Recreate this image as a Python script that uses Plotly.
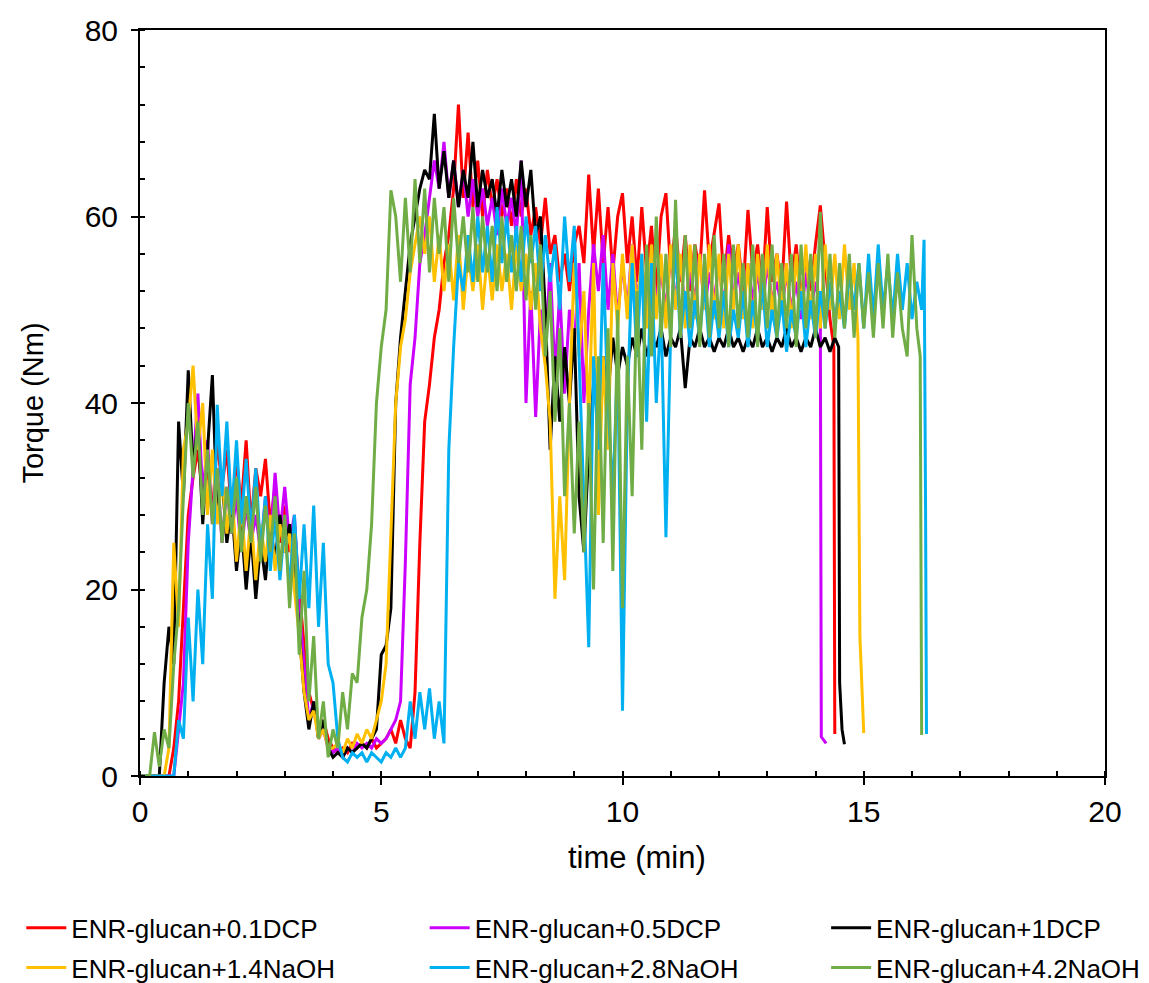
import plotly.graph_objects as go

# ---------------- data (torque in Nm, sampled every 0.1 min, plus end-of-run tails) ----------------
STEP = 0.1

names = ["ENR-glucan+0.1DCP", "ENR-glucan+0.5DCP", "ENR-glucan+1DCP",
         "ENR-glucan+1.4NaOH", "ENR-glucan+2.8NaOH", "ENR-glucan+4.2NaOH"]
colors = ["#FF0000", "#CC00FF", "#000000", "#FFC000", "#00B0F0", "#70AD47"]

red_v = [0, 0, 0, 0, 0, 0, 0, 3, 8, 18, 28, 32, 35, 30, 33, 28, 36, 31, 35, 28,
         34, 29, 36, 27, 33, 30, 34, 27, 31, 25, 29, 24, 27, 20, 14, 9, 7, 5, 6, 4,
         3, 2.5, 3, 2.5, 3.5, 3, 3.5, 3, 4, 3, 3.5, 4, 5, 3.5, 6, 4, 3, 9, 25, 38,
         42, 47, 50, 55, 58, 63, 72, 62, 69, 61, 66, 60, 65, 61, 64, 60, 63, 59, 64, 60,
         63, 58, 61, 57, 62, 56, 58, 53, 56, 52, 57, 59, 55, 64.5, 56, 63, 55, 61, 54, 60,
         62.5, 55, 60, 53, 61, 54, 59, 52, 60, 62.5, 54, 59, 53, 58, 52, 57, 54, 62.8, 55, 58,
         61.4, 53, 58, 54, 57, 52, 60.7, 54, 57, 52, 61, 53, 56, 52, 61.6, 53, 57, 51, 56, 52,
         57, 61.2, 55, 49]
red_tail_t = [14.38, 14.4]
red_tail_v = [46, 4.5]

purple_v = [0, 0, 0, 0, 0, 0, 0, 0, 5, 10, 25, 33, 41, 30, 36, 27, 33, 25, 31, 26,
            30, 24, 29, 25, 28, 24, 30, 25, 32.5, 26, 31, 25, 28, 18, 12, 6, 8, 4, 5, 3,
            2.5, 3, 2, 3, 2.5, 3.5, 3, 3.5, 3, 4, 3.5, 4, 5, 6, 8, 23, 42, 47, 55, 58,
            62, 66, 63, 68, 62, 66, 61, 65, 60, 64, 60, 63, 59, 62, 58, 63, 59, 62, 58, 66,
            40, 52, 38.5, 50, 45, 55, 43, 52, 41, 50, 46, 55, 40, 50, 57, 52, 58, 50, 56, 49,
            55, 50, 57, 51, 55, 50, 56, 51, 54, 50, 56, 51, 55, 50, 54, 51, 56, 50, 54, 51,
            55, 50, 57, 51, 54, 50, 55, 51, 54, 50, 55, 51, 53, 50, 54, 50, 53, 49, 54, 50,
            53, 50]
purple_tail_t = [14.12, 14.17, 14.22]
purple_tail_v = [4.2, 3.8, 3.5]

black_v = [0, 0, 0, 0, 0, 10, 16, 12, 38, 30, 43.5, 33, 38, 27, 35, 43, 28, 32, 25, 29,
           22, 27, 20, 26, 19, 25, 21, 27, 23, 28, 24, 27, 22, 15, 9, 5, 8, 4, 6, 3,
           2, 2.5, 2, 3, 2.5, 3, 3.5, 3, 4, 5, 13, 14, 18, 40, 47, 52, 57, 60, 63, 65,
           64, 71, 63, 67, 62, 66, 61, 65, 62, 68, 61, 65, 62, 64, 60, 65, 61, 64, 60, 66,
           61, 65, 58, 60, 50, 35, 45, 38, 46, 40, 48, 30, 24, 35, 42, 38, 45, 41, 47, 43,
           46, 44, 47, 45, 48, 45, 47, 46, 48, 45, 47, 46, 48, 41.6, 47, 46, 48, 46, 47, 45.5,
           47, 46, 48, 46, 47, 45.5, 47, 46, 48, 46, 47, 45.5, 47, 46, 48, 46, 47, 45.5, 47, 46,
           48, 46, 47, 45.5, 47]
black_tail_t = [14.48, 14.5, 14.55, 14.6]
black_tail_v = [46, 10, 5, 3.4]

yellow_v = [0, 0, 0, 0, 0, 0, 3, 25, 16, 35, 38, 44, 35, 40, 28, 35, 27, 32, 26, 31,
            23, 29, 22, 28, 21, 27, 23, 28, 22, 27, 24, 26, 20, 15, 9, 6, 7, 4, 5, 3,
            3, 3.5, 2.5, 4, 3, 4.5, 3.5, 5, 4, 6, 8, 12, 25, 40, 46, 49, 54, 57, 60, 56,
            60, 53, 58, 52, 57, 51, 58, 50, 56, 52, 57, 50, 56, 51, 57, 52, 56, 50, 57, 52,
            56, 50, 55, 48, 44, 38, 19, 30, 21, 40, 55, 45, 52, 38, 55, 28, 45, 35, 55, 48,
            56, 49, 57, 50, 56, 48, 57, 49, 56, 48, 57, 50, 56, 48, 57, 49, 56, 50, 57, 49,
            56, 48, 56, 50, 57, 49, 55, 48, 56, 50, 57, 49, 56, 50, 55, 48, 56, 50, 57, 49,
            56, 48, 57, 50, 56, 49, 57, 50, 55]
yellow_tail_t = [14.85, 14.88, 14.92, 14.98, 15.0]
yellow_tail_v = [50, 47, 15, 7, 4.6]

blue_v = [0, 0, 0, 0, 0, 0, 0, 0, 6, 4, 17, 8, 20, 12, 27, 19, 39.8, 30, 38, 28,
          36, 27, 34, 26, 33, 24, 30, 22, 28, 21, 27, 20, 28, 19, 27, 18, 29, 16, 25, 12,
          10, 4, 2, 1.5, 2.5, 2, 2.5, 1.5, 2.5, 2, 1.5, 2.5, 2, 3, 2, 3, 8, 4, 9, 5,
          9.4, 4, 8, 3.5, 35, 46, 55, 52, 58, 53, 60, 54, 59, 53, 61, 55, 60, 54, 59, 53,
          60, 55, 59, 52, 58, 53, 57, 50, 60, 53, 59, 45, 30, 13.8, 45, 35, 55, 40, 30, 45,
          7, 40, 55, 45, 56, 38, 55, 40, 50, 25.6, 48, 57, 47, 52, 46, 51, 47, 53, 46, 51,
          47, 52, 46, 50, 47, 52, 46, 51, 47, 53, 46, 50, 47, 51, 45.5, 50, 47, 52, 46, 51,
          47, 52, 48, 53, 49, 52, 48, 54, 50, 55, 48, 56, 49, 57, 50, 55, 49, 56, 50, 55,
          49, 53, 50]
blue_tail_t = [16.25, 16.28, 16.3]
blue_tail_v = [57.5, 30, 4.5]

green_v = [0, 0, 0, 4.7, 1, 5, 3, 12, 18, 30, 40, 32, 38, 28, 35, 27, 33, 25, 31, 26,
           32, 24, 30, 25, 31, 23, 29, 24, 30, 22, 28, 18, 26, 13, 22, 8, 15, 4, 8, 2,
           5, 3, 9, 5, 11, 10, 17, 20, 27, 40, 46, 50, 62.8, 60, 53, 62, 54, 64, 55, 63,
           54, 62, 56, 61, 53, 62, 55, 60, 54, 61, 53, 60, 54, 59, 52, 60, 53, 58, 52, 59,
           51, 58, 50, 57, 45, 52, 38, 48, 30, 40, 26, 38, 24, 40, 20, 45, 25, 48, 22, 50,
           18, 45, 30, 52, 35, 57, 45, 60, 47, 56, 46, 61.8, 47, 58, 48, 57, 46, 56, 47, 58,
           48, 56, 46, 57, 48, 55, 47, 57, 46, 56, 48, 57, 47, 55, 48, 56, 46, 57, 48, 56,
           47, 60.5, 48, 56, 47, 55, 48, 56, 47, 55, 48, 54, 47, 55, 48, 56, 47, 54, 48, 45,
           58, 48]
green_tail_t = [16.17, 16.2]
green_tail_v = [45, 4.4]

series_v = [red_v, purple_v, black_v, yellow_v, blue_v, green_v]
tails_t = [red_tail_t, purple_tail_t, black_tail_t, yellow_tail_t, blue_tail_t, green_tail_t]
tails_v = [red_tail_v, purple_tail_v, black_tail_v, yellow_tail_v, blue_tail_v, green_tail_v]
legend_ids = ["legend", "legend2", "legend3", "legend", "legend2", "legend3"]

x_ticks = [0, 5, 10, 15, 20]
y_ticks = [0, 20, 40, 60, 80]

FONT = "Arial, 'Liberation Sans', sans-serif"

fig = go.Figure()
for i in range(6):
    t = [round(k * STEP, 2) for k in range(len(series_v[i]))] + tails_t[i]
    v = list(series_v[i]) + tails_v[i]
    fig.add_trace(go.Scatter(
        x=t, y=v, mode="lines", name=names[i],
        line=dict(color=colors[i], width=3),
        legend=legend_ids[i], legendgroup=names[i],
    ))

axis_common = dict(
    showline=True, linecolor="black", linewidth=2, mirror=True,
    showgrid=False, zeroline=False,
    ticks="outside", ticklen=7, tickwidth=2, tickcolor="black",
    tickfont=dict(family=FONT, size=30, color="black"),
)

fig.update_xaxes(
    range=[0, 20], tickvals=x_ticks, ticktext=[str(v) for v in x_ticks],
    minor=dict(ticks="inside", dtick=1, tick0=0, ticklen=5, tickwidth=2, tickcolor="black"),
    ticklabelstandoff=1,
    **axis_common,
)
fig.update_yaxes(
    range=[0, 80], tickvals=y_ticks, ticktext=[str(v) for v in y_ticks],
    minor=dict(ticks="inside", dtick=4, tick0=0, ticklen=5, tickwidth=2, tickcolor="black"),
    title=dict(text="Torque (Nm)", font=dict(family=FONT, size=29, color="black"), standoff=32),
    ticklabelstandoff=7,
    **axis_common,
)

# x-axis title placed like the reference (slightly right of centre)
fig.add_annotation(text="time (min)", xref="paper", yref="paper", x=0.5155, y=-0.1086,
                   xanchor="center", yanchor="middle", showarrow=False,
                   font=dict(family=FONT, size=31, color="black"))

leg_common = dict(orientation="v", yanchor="top", xanchor="left", y=-0.172,
                  font=dict(family=FONT, size=26, color="black"),
                  bgcolor="rgba(0,0,0,0)", traceorder="grouped", tracegroupgap=3,
                  itemwidth=40)
fig.update_layout(
    width=1149, height=983,
    margin=dict(l=132, r=52, t=22, b=215, autoexpand=False),
    plot_bgcolor="white", paper_bgcolor="white",
    legend=dict(x=-0.123, **leg_common),
    legend2=dict(x=0.295, **leg_common),
    legend3=dict(x=0.711, **leg_common),
)

fig.write_html("out.html")
